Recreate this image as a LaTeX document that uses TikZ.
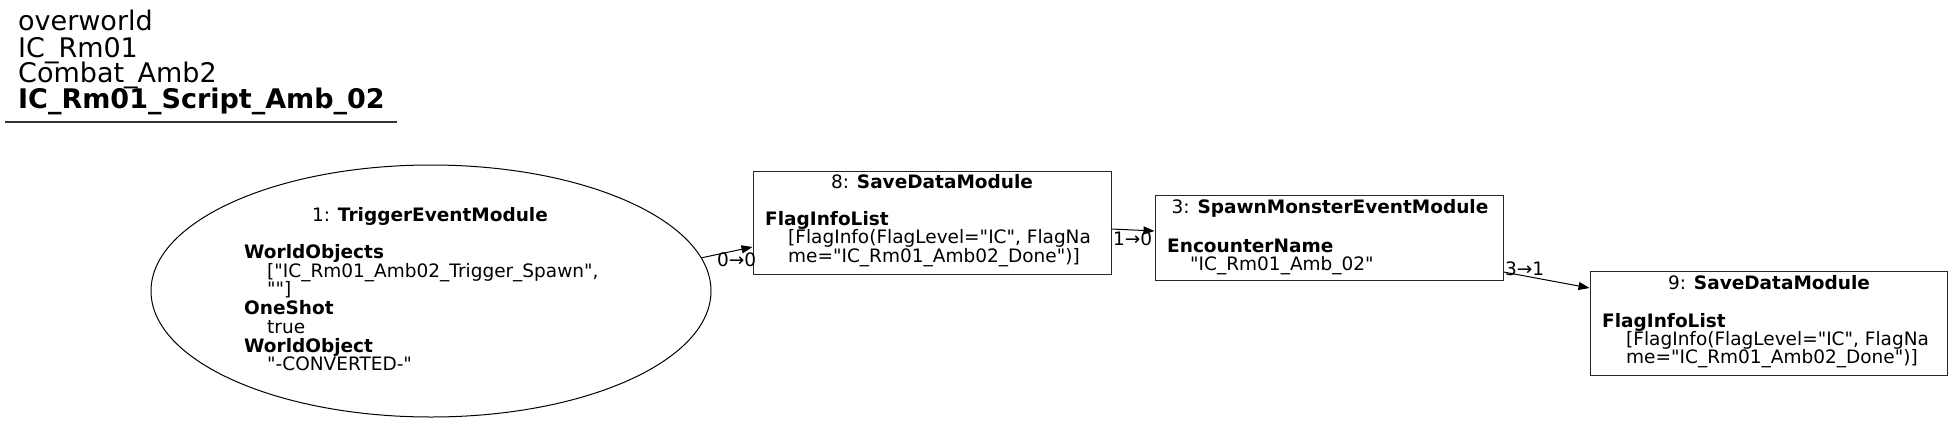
\documentclass[tikz,border=0pt]{standalone}
\usepackage{fontspec}
\newfontfamily\dv{DejaVu Sans}
\usetikzlibrary{arrows.meta,shapes.geometric}
\tikzset{
  box/.style={draw=black!85,line width=1pt,rectangle,inner sep=0pt},
  oval/.style={draw=black,line width=1pt,ellipse,inner sep=0pt},
  txt/.style={inner sep=0pt,font=\dv\fontsize{18.5}{18.5}\selectfont},
  ttl/.style={inner sep=0pt,font=\dv\fontsize{27}{26}\selectfont,anchor=base west},
  lt/.style={txt,anchor=base west},
  ct/.style={txt,anchor=base},
  conn/.style={line width=1pt,-{Triangle[length=11pt,width=8pt]}},
}
\begin{document}
\begin{tikzpicture}[x=1pt,y=-1pt]
\useasboundingbox (0,0) rectangle (1953,423);
% title
\node[ttl] (t1) at (18,30) {overworld};
\node[ttl] (t2) at (18,57) {IC\_Rm01};
\node[ttl] (t3) at (18,82) {Combat\_Amb2};
\node[ttl] (t4) at (18,108) {\bfseries IC\_Rm01\_Script\_Amb\_02};
\coordinate (u1) at (5,122);
\coordinate (u2) at (397,122);
\draw[line width=1.2pt,black!80] (u1) -- (u2);
% nodes
\node[oval,minimum width=560pt,minimum height=252pt] (e1) at (431,291) {};
\node[box,minimum width=358pt,minimum height=103pt] (b8) at (932,222.5) {};
\node[box,minimum width=348pt,minimum height=85pt] (b3) at (1329,237.5) {};
\node[box,minimum width=357pt,minimum height=104pt] (b9) at (1768.5,323) {};
% ellipse text
\node[ct] (e1a) at (430,221) {1: \textbf{TriggerEventModule}};
\node[lt] (e1b) at (244,258) {\textbf{WorldObjects}};
\node[lt] (e1c) at (267,277) {["IC\_Rm01\_Amb02\_Trigger\_Spawn",};
\node[lt] (e1d) at (267,295) {""]};
\node[lt] (e1e) at (244,314) {\textbf{OneShot}};
\node[lt] (e1f) at (267,333) {true};
\node[lt] (e1g) at (244,352) {\textbf{WorldObject}};
\node[lt] (e1h) at (267,370) {"-CONVERTED-"};
% box 8 text
\node[ct] (b8a) at (932,188) {8: \textbf{SaveDataModule}};
\node[lt] (b8b) at (765,225) {\textbf{FlagInfoList}};
\node[lt] (b8c) at (788,243) {[FlagInfo(FlagLevel="IC", FlagNa};
\node[lt] (b8d) at (788,262) {me="IC\_Rm01\_Amb02\_Done")]};
% box 3 text
\node[ct] (b3a) at (1330,213) {3: \textbf{SpawnMonsterEventModule}};
\node[lt] (b3b) at (1167,252) {\textbf{EncounterName}};
\node[lt] (b3c) at (1190,270) {"IC\_Rm01\_Amb\_02"};
% box 9 text
\node[ct] (b9a) at (1769,289) {9: \textbf{SaveDataModule}};
\node[lt] (b9b) at (1602,327) {\textbf{FlagInfoList}};
\node[lt] (b9c) at (1626,345) {[FlagInfo(FlagLevel="IC", FlagNa};
\node[lt] (b9d) at (1626,363) {me="IC\_Rm01\_Amb02\_Done")]};
% connectors
\draw[conn] (e1.7.9) -- ([yshift=-24.5pt]b8.west);
\draw[conn] ([yshift=-6.5pt]b8.east) -- ([yshift=6.5pt]b3.west);
\draw[conn] ([yshift=-34.5pt]b3.east) -- ([yshift=35pt]b9.west);
% edge labels
\node[lt] (l1) at (717,266) {0→0};
\node[lt] (l2) at (1113,245) {1→0};
\node[lt] (l3) at (1505,275) {3→1};
\end{tikzpicture}
\end{document}
